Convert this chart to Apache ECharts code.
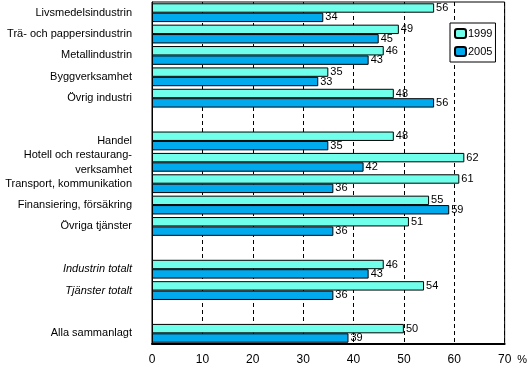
<!DOCTYPE html>
<html><head><meta charset="utf-8">
<script src="https://cdn.jsdelivr.net/npm/echarts@6/dist/echarts.min.js"></script>
<style>html,body{margin:0;padding:0;background:#fff}#c{width:530px;height:366px}</style>
</head><body><div id="c"></div>
<script>
var categories = ['Livsmedelsindustrin','Trä- och pappersindustrin','Metallindustrin','Byggverksamhet','Övrig industri',' ',
  'Handel','Hotell och restaurang-\nverksamhet','Transport, kommunikation','Finansiering, försäkring','Övriga tjänster','  ',
  'Industrin totalt','Tjänster totalt','   ','Alla sammanlagt'];
var italicCats = ['Industrin totalt','Tjänster totalt'];
var values1999 = [56,49,46,35,48,null,48,62,61,55,51,null,46,54,null,50];
var values2005 = [34,45,43,33,56,null,35,42,36,59,36,null,43,36,null,39];
var seriesNames = ['1999','2005'];
var xTicks = [0,10,20,30,40,50,60,70];

var font = 'Arial, "Liberation Sans", sans-serif';
var chart = echarts.init(document.getElementById('c'));
function barSeries(name, data, color) {
  return {
    name: name, type: 'bar', data: data, barGap: '0%', barCategoryGap: '12%',
    itemStyle: {color: color, borderColor: '#000', borderWidth: 1},
    label: {show: true, position: 'right', distance: 2, color: '#000', fontSize: 11, fontFamily: font},
    emphasis: {disabled: true}, animation: false
  };
}
chart.setOption({
  animation: false,
  grid: {left: 152, right: 20, top: 2, bottom: 21, show: true, borderColor: '#000', borderWidth: 1, backgroundColor: 'transparent'},
  legend: {
    orient: 'vertical', left: 450, top: 23, data: seriesNames,
    itemWidth: 11, itemHeight: 9, itemGap: 7, padding: [5, 3, 5, 4],
    backgroundColor: '#fff', borderColor: '#000', borderWidth: 1, borderRadius: 0,
    textStyle: {fontSize: 11, fontFamily: font, color: '#000', padding: [0,0,0,-3]}
  },
  xAxis: {
    type: 'value', min: 0, max: 70, interval: 10,
    axisLine: {show: true, lineStyle: {color: '#000', width: 2}},
    axisTick: {show: false},
    splitLine: {show: true, lineStyle: {color: '#000', type: [4, 3], width: 1}},
    axisLabel: {color: '#000', fontSize: 12, fontFamily: font, margin: 10,
      formatter: function (v) { return xTicks.indexOf(v) >= 0 ? String(v) : ''; }},
    name: '%', nameLocation: 'end', nameGap: 6,
    nameTextStyle: {color: '#000', fontSize: 11, fontFamily: font, verticalAlign: 'top', padding: [10, 0, 0, 0]}
  },
  yAxis: {
    type: 'category', inverse: true, data: categories,
    axisLine: {show: true, lineStyle: {color: '#000', width: 1}},
    axisTick: {show: false},
    axisLabel: {color: '#000', fontSize: 11, fontFamily: font, margin: 20, lineHeight: 15,
      formatter: function (v) { return italicCats.indexOf(v) >= 0 ? '{i|' + v + '}' : v; },
      rich: {i: {fontStyle: 'italic', fontSize: 11, fontFamily: font, color: '#000'}}
    }
  },
  series: [barSeries(seriesNames[0], values1999, '#70FFEA'), barSeries(seriesNames[1], values2005, '#00AAEC')]
});
</script></body></html>
